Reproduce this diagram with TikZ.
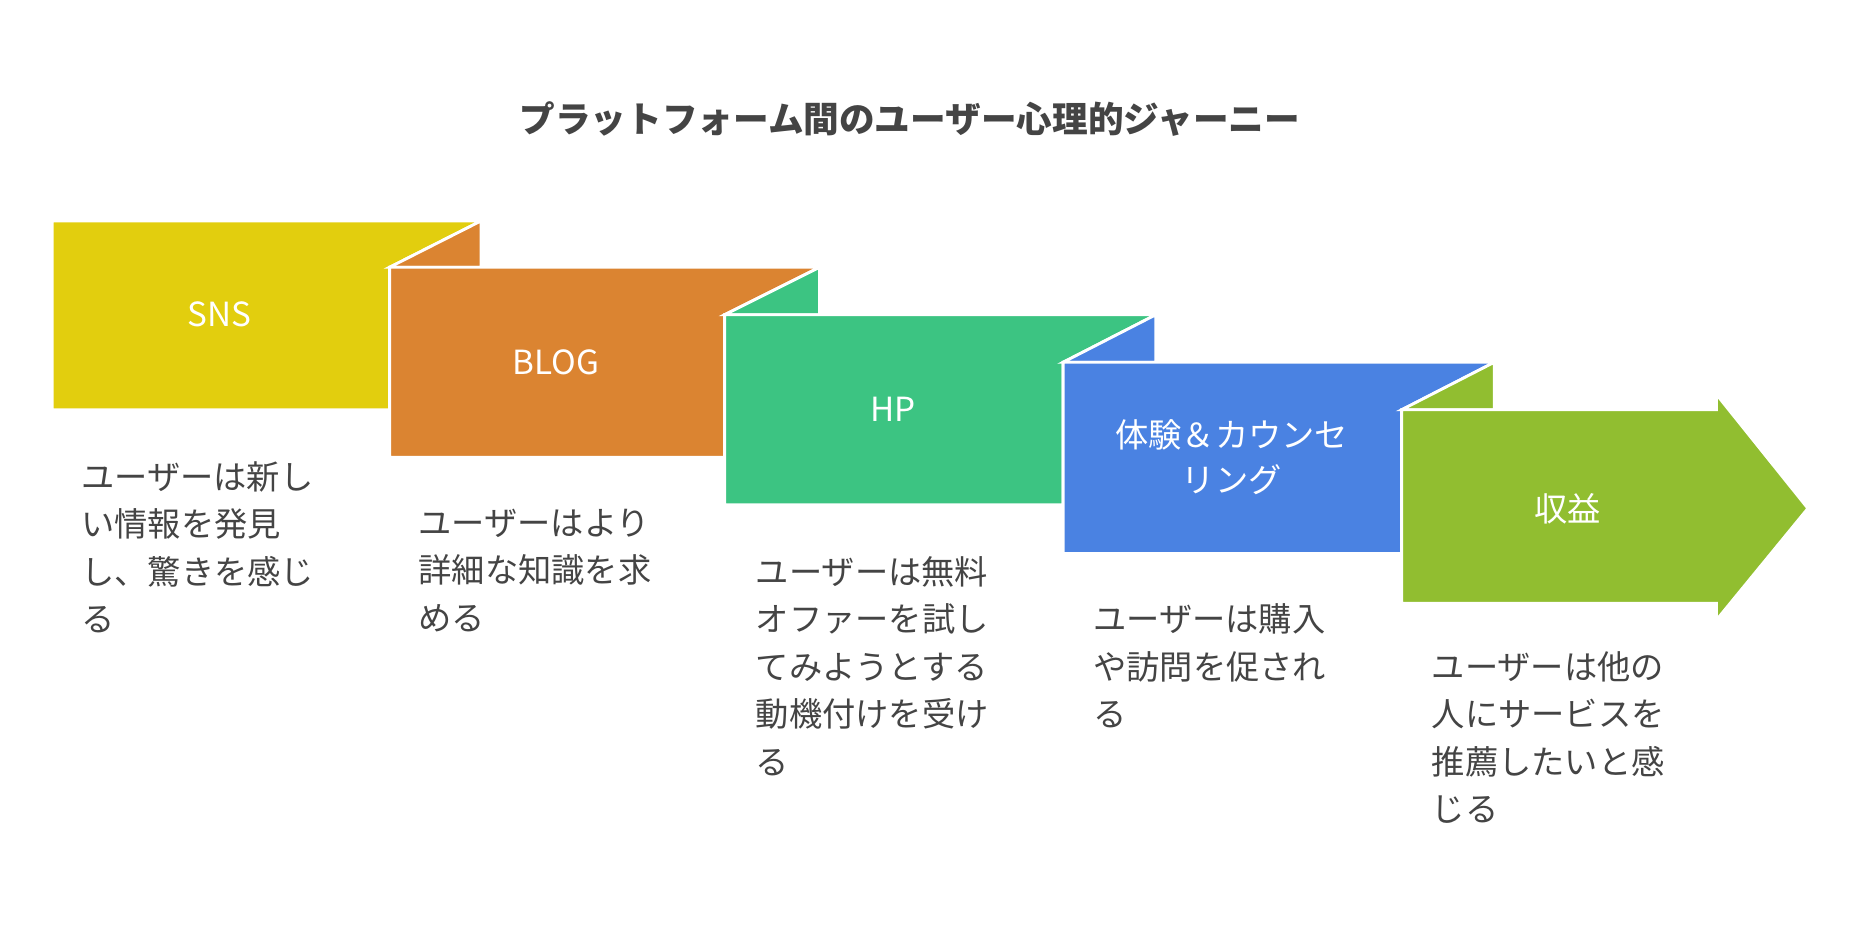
\documentclass[tikz,border=0pt]{standalone}
\usepackage{fontspec}
\setmainfont{Noto Sans CJK JP}
\usetikzlibrary{positioning}
\definecolor{stageSNS}{HTML}{E2CE0E}
\definecolor{stageBLOG}{HTML}{DB8431}
\definecolor{stageHP}{HTML}{3CC482}
\definecolor{stageEXP}{HTML}{4A82E2}
\definecolor{stageREV}{HTML}{91BE30}
\definecolor{textStd}{HTML}{444444}
\tikzset{
  panel/.style={draw=white, line width=1.2pt, line join=miter},
  stagelabel/.style={text=white, font=\fontsize{14}{19}\selectfont, align=center},
  desc/.style={text=textStd, font=\fontsize{14}{20}\selectfont, align=left, anchor=north west, inner sep=0pt}
}
\begin{document}
\begin{tikzpicture}[x=0.5pt,y=-0.5pt]
  \useasboundingbox (0,0) rectangle (1560,791);
  \node[text=textStd, font=\bfseries\fontsize{15}{18}\selectfont] (title) at (766,100) {プラットフォーム間のユーザー心理的ジャーニー};

  % panels
  \fill[stageSNS, panel] (44,186) -- (405,186) -- (328,225) -- (328,345) -- (44,345) -- cycle;
  \fill[stageBLOG, panel] (405,186) -- (405,225) -- (328,225) -- cycle;
  \fill[stageBLOG, panel] (328,225) -- (690,225) -- (610,265) -- (610,385) -- (328,385) -- cycle;
  \fill[stageHP, panel] (690,225) -- (690,265) -- (610,265) -- cycle;
  \fill[stageHP, panel] (610,265) -- (973,265) -- (895,305) -- (895,425) -- (610,425) -- cycle;
  \fill[stageEXP, panel] (973,265) -- (973,305) -- (895,305) -- cycle;
  \fill[stageEXP, panel] (895,305) -- (1258,305) -- (1180,345) -- (1180,466) -- (895,466) -- cycle;
  \fill[stageREV, panel] (1258,305) -- (1258,345) -- (1180,345) -- cycle;
  \fill[stageREV, panel] (1180,345) -- (1445,345) -- (1445,332) -- (1522,428) -- (1445,522) -- (1445,508) -- (1180,508) -- cycle;

  \node[stagelabel] (sns) at (185,265) {SNS};
  \node[stagelabel] (blog) at (468,305) {BLOG};
  \node[stagelabel] (hp) at (752,345) {HP};
  \node[stagelabel] (exp) at (1037,385) {体験＆カウンセ\\リング};
  \node[stagelabel] (rev) at (1320,428) {収益};

  % descriptions
  \node[desc] (snsdesc) at (68,388) {ユーザーは新し\\い情報を発見\\し、驚きを感じ\\る};
  \node[desc] (blogdesc) at (352,428) {ユーザーはより\\詳細な知識を求\\める};
  \node[desc] (hpdesc) at (636,468) {ユーザーは無料\\オファーを試し\\てみようとする\\動機付けを受け\\る};
  \node[desc] (expdesc) at (920,508) {ユーザーは購入\\や訪問を促され\\る};
  \node[desc] (revdesc) at (1205,548) {ユーザーは他の\\人にサービスを\\推薦したいと感\\じる};
\end{tikzpicture}
\end{document}
